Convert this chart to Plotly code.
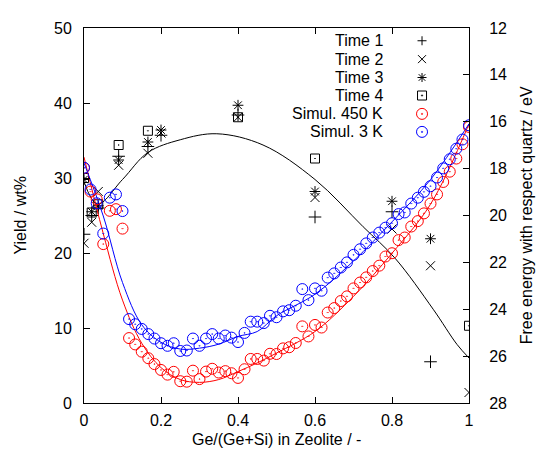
import plotly.graph_objects as go

# ---------------- data ----------------
# experimental yields (wt%)
x_exp = [0.0, 0.02, 0.037, 0.09, 0.166, 0.2, 0.4, 0.6, 0.8, 0.9, 1.0]
time1 = [22.5, 25.0, 26.0, 32.9, 34.2, 35.7, 38.4, 24.8, 25.5, 5.5, None]
time2 = [21.3, 24.1, 28.2, 31.7, 33.3, 36.0, 38.1, 27.4, 23.2, 18.3, 1.4]
time3 = [29.8, 25.5, 26.3, 32.4, 34.8, 36.4, 39.7, 28.2, 26.9, 21.9, None]
time4 = [30.0, 25.4, 26.5, 34.4, 36.3, None, 38.1, 32.6, None, None, 10.3]

# smooth curve through yields
x_fit = [0.0, 0.035, 0.1, 0.166, 0.25, 0.345, 0.465, 0.6, 0.725, 0.808, 0.907, 0.969, 1.0]
y_fit = [29.5, 26.5, 29.8, 33.4, 35.1, 35.9, 34.4, 29.8, 23.5, 19.3, 12.5, 7.8, 6.0]

# simulated free energies (eV)
x_sim = [0.0, 0.017, 0.033, 0.05, 0.067, 0.083, 0.1, 0.117, 0.133, 0.15,
         0.167, 0.183, 0.2, 0.217, 0.233, 0.25, 0.267, 0.283, 0.3, 0.317,
         0.333, 0.35, 0.367, 0.383, 0.4, 0.417, 0.433, 0.45, 0.467, 0.483,
         0.5, 0.517, 0.533, 0.55, 0.567, 0.583, 0.6, 0.617, 0.633, 0.65,
         0.667, 0.683, 0.7, 0.717, 0.733, 0.75, 0.767, 0.783, 0.8, 0.817,
         0.833, 0.85, 0.867, 0.883, 0.9, 0.917, 0.933, 0.95, 0.967, 0.983, 1.0]
sim450 = [17.97, 18.98, 19.31, 21.22, 19.80, 19.73, 20.56, 25.23, 25.50, 25.81,
          26.09, 26.34, 26.59, 26.79, 26.67, 27.07, 27.09, 26.62, 26.98, 26.66,
          26.54, 26.70, 26.64, 26.73, 26.93, 26.56, 26.12, 26.12, 26.19, 25.90,
          25.91, 25.67, 25.62, 25.44, 24.73, 25.16, 24.67, 24.78, 24.14, 23.95,
          23.65, 23.45, 23.11, 22.86, 22.64, 22.37, 22.14, 21.75, 21.61, 21.05,
          20.94, 20.47, 20.24, 19.91, 19.49, 19.10, 18.57, 18.13, 17.57, 16.96, 16.22]
sim3 = [17.96, 18.89, 19.48, 20.77, 19.24, 19.10, 19.81, 24.42, 24.64, 24.84,
        25.06, 25.25, 25.45, 25.56, 25.45, 25.78, 25.76, 25.25, 25.56, 25.25,
        25.06, 25.25, 25.12, 25.21, 25.40, 25.01, 24.53, 24.53, 24.59, 24.28,
        24.34, 24.09, 24.04, 23.85, 23.14, 23.61, 23.11, 23.21, 22.65, 22.47,
        22.22, 22.00, 21.68, 21.44, 21.19, 20.94, 20.73, 20.52, 20.33, 19.94,
        19.87, 19.49, 19.24, 18.99, 18.75, 18.38, 17.99, 17.60, 17.15, 16.76, 16.15]

# fitted curves for simulations (eV)
x_simfit = [0.0, 0.05, 0.1, 0.15, 0.2, 0.25, 0.3, 0.35, 0.4, 0.45, 0.5, 0.6, 0.7, 0.8, 0.9, 1.0]
fit450 = [17.51, 20.77, 23.61, 25.45, 26.49, 27.00, 27.12, 27.00, 26.66, 26.29, 25.87, 24.95, 23.45, 21.61, 19.52, 16.09]
fit3 = [17.76, 20.02, 22.86, 24.66, 25.41, 25.70, 25.66, 25.49, 25.16, 24.95, 24.28, 23.36, 21.94, 20.27, 18.47, 16.09]

x_ticks = [0, 0.2, 0.4, 0.6, 0.8, 1]
x_ticklabels = ["0", "0.2", "0.4", "0.6", "0.8", "1"]
y_ticks = [0, 10, 20, 30, 40, 50]
y2_ticks = [12, 14, 16, 18, 20, 22, 24, 26, 28]

legend_labels = ["Time 1", "Time 2", "Time 3", "Time 4", "Simul. 450 K", "Simul. 3 K"]

FONT = "Liberation Sans, Arial, sans-serif"
RED = "#ff0000"
BLUE = "#0000ff"

fig = go.Figure()

# curves
fig.add_trace(go.Scatter(x=x_fit, y=y_fit, mode="lines", line=dict(color="black", width=1, shape="spline"),
                         showlegend=False, yaxis="y"))
fig.add_trace(go.Scatter(x=x_simfit, y=fit450, mode="lines", line=dict(color=RED, width=1, shape="spline"),
                         showlegend=False, yaxis="y2"))
fig.add_trace(go.Scatter(x=x_simfit, y=fit3, mode="lines", line=dict(color=BLUE, width=1, shape="spline"),
                         showlegend=False, yaxis="y2"))

# simulations
fig.add_trace(go.Scatter(x=x_sim, y=sim450, mode="markers", name="Simul. 450 K", yaxis="y2",
                         marker=dict(symbol="circle-open-dot", size=11, color=RED, line=dict(color=RED, width=1)),
                         showlegend=False))
fig.add_trace(go.Scatter(x=x_sim, y=sim3, mode="markers", name="Simul. 3 K", yaxis="y2",
                         marker=dict(symbol="circle-open-dot", size=11, color=BLUE, line=dict(color=BLUE, width=1)),
                         showlegend=False))

# experiments
for name, vals, sym in [("Time 1", time1, "cross-thin"), ("Time 2", time2, "x-thin"),
                        ("Time 3", time3, "asterisk"), ("Time 4", time4, "square-open-dot")]:
    fig.add_trace(go.Scatter(x=x_exp, y=vals, mode="markers", name=name, yaxis="y",
                             marker=dict(symbol=sym, size=9, color="black", line=dict(color="black", width=1)),
                             showlegend=False))

# ---- manual legend (gnuplot style: text right-aligned, key on the right) ----
row_y = [0.966, 0.917, 0.868, 0.820, 0.771, 0.723]
text_x = 0.782
key_x = 0.878
annotations = []
shapes = []
for lab, yy in zip(legend_labels, row_y):
    annotations.append(dict(text=lab, x=text_x, y=yy, xref="paper", yref="paper", xanchor="right",
                            yanchor="middle", showarrow=False, font=dict(family=FONT, size=16, color="black")))

def pshape(yy, path, color="black"):
    return dict(type="path", path=path, xref="paper", yref="paper", xsizemode="pixel", ysizemode="pixel",
                xanchor=key_x, yanchor=yy, line=dict(color=color, width=1))

def dot(yy, color):
    return dict(type="circle", xref="paper", yref="paper", xsizemode="pixel", ysizemode="pixel",
                xanchor=key_x, yanchor=yy, x0=-0.7, x1=0.7, y0=-0.7, y1=0.7,
                line=dict(color=color, width=0.5), fillcolor=color)

shapes.append(pshape(row_y[0], "M -4.5,0 L 4.5,0 M 0,-4.5 L 0,4.5"))
shapes.append(pshape(row_y[1], "M -4,-4 L 4,4 M -4,4 L 4,-4"))
shapes.append(pshape(row_y[2], "M -4.5,0 L 4.5,0 M 0,-4.5 L 0,4.5 M -3.3,-3.3 L 3.3,3.3 M -3.3,3.3 L 3.3,-3.3"))
shapes.append(pshape(row_y[3], "M -4.5,-4.5 L 4.5,-4.5 L 4.5,4.5 L -4.5,4.5 Z"))
shapes.append(dot(row_y[3], "black"))
for yy, col in [(row_y[4], RED), (row_y[5], BLUE)]:
    shapes.append(dict(type="circle", xref="paper", yref="paper", xsizemode="pixel", ysizemode="pixel",
                       xanchor=key_x, yanchor=yy, x0=-5.5, x1=5.5, y0=-5.5, y1=5.5,
                       line=dict(color=col, width=1)))
    shapes.append(dot(yy, col))

# axis titles
annotations.append(dict(text="Yield / wt%", x=-0.166, y=0.5, xref="paper", yref="paper", textangle=-90,
                        showarrow=False, xanchor="center", yanchor="middle",
                        font=dict(family=FONT, size=16, color="black")))
annotations.append(dict(text="Free energy with respect quartz / eV", x=1.15, y=0.5, xref="paper", yref="paper",
                        textangle=-90, showarrow=False, xanchor="center", yanchor="middle",
                        font=dict(family=FONT, size=16, color="black")))
annotations.append(dict(text="Ge/(Ge+Si) in Zeolite / -", x=0.5, y=-0.097, xref="paper", yref="paper",
                        showarrow=False, xanchor="center", yanchor="middle",
                        font=dict(family=FONT, size=16, color="black")))

axis_common = dict(showgrid=False, zeroline=False, showline=True, linecolor="black", linewidth=1,
                   ticks="inside", ticklen=6, tickwidth=1, tickcolor="black",
                   tickfont=dict(family=FONT, size=16, color="black"))

# page body has an 8 px margin, so the figure is 16 px smaller than the window
fig.update_layout(
    width=530, height=444, autosize=False,
    margin=dict(l=76, r=69, t=12, b=49, pad=0),
    plot_bgcolor="white", paper_bgcolor="white",
    showlegend=False,
    xaxis=dict(range=[0, 1], tickvals=x_ticks, ticktext=x_ticklabels, mirror="ticks",
               ticklabelstandoff=3, **axis_common),
    yaxis=dict(range=[0, 50], tickvals=y_ticks, ticklabelstandoff=8, **axis_common),
    yaxis2=dict(range=[28, 12], tickvals=y2_ticks, overlaying="y", side="right",
                ticklabelstandoff=16, **axis_common),
    annotations=annotations,
    shapes=shapes,
)

fig.write_html("out.html")
